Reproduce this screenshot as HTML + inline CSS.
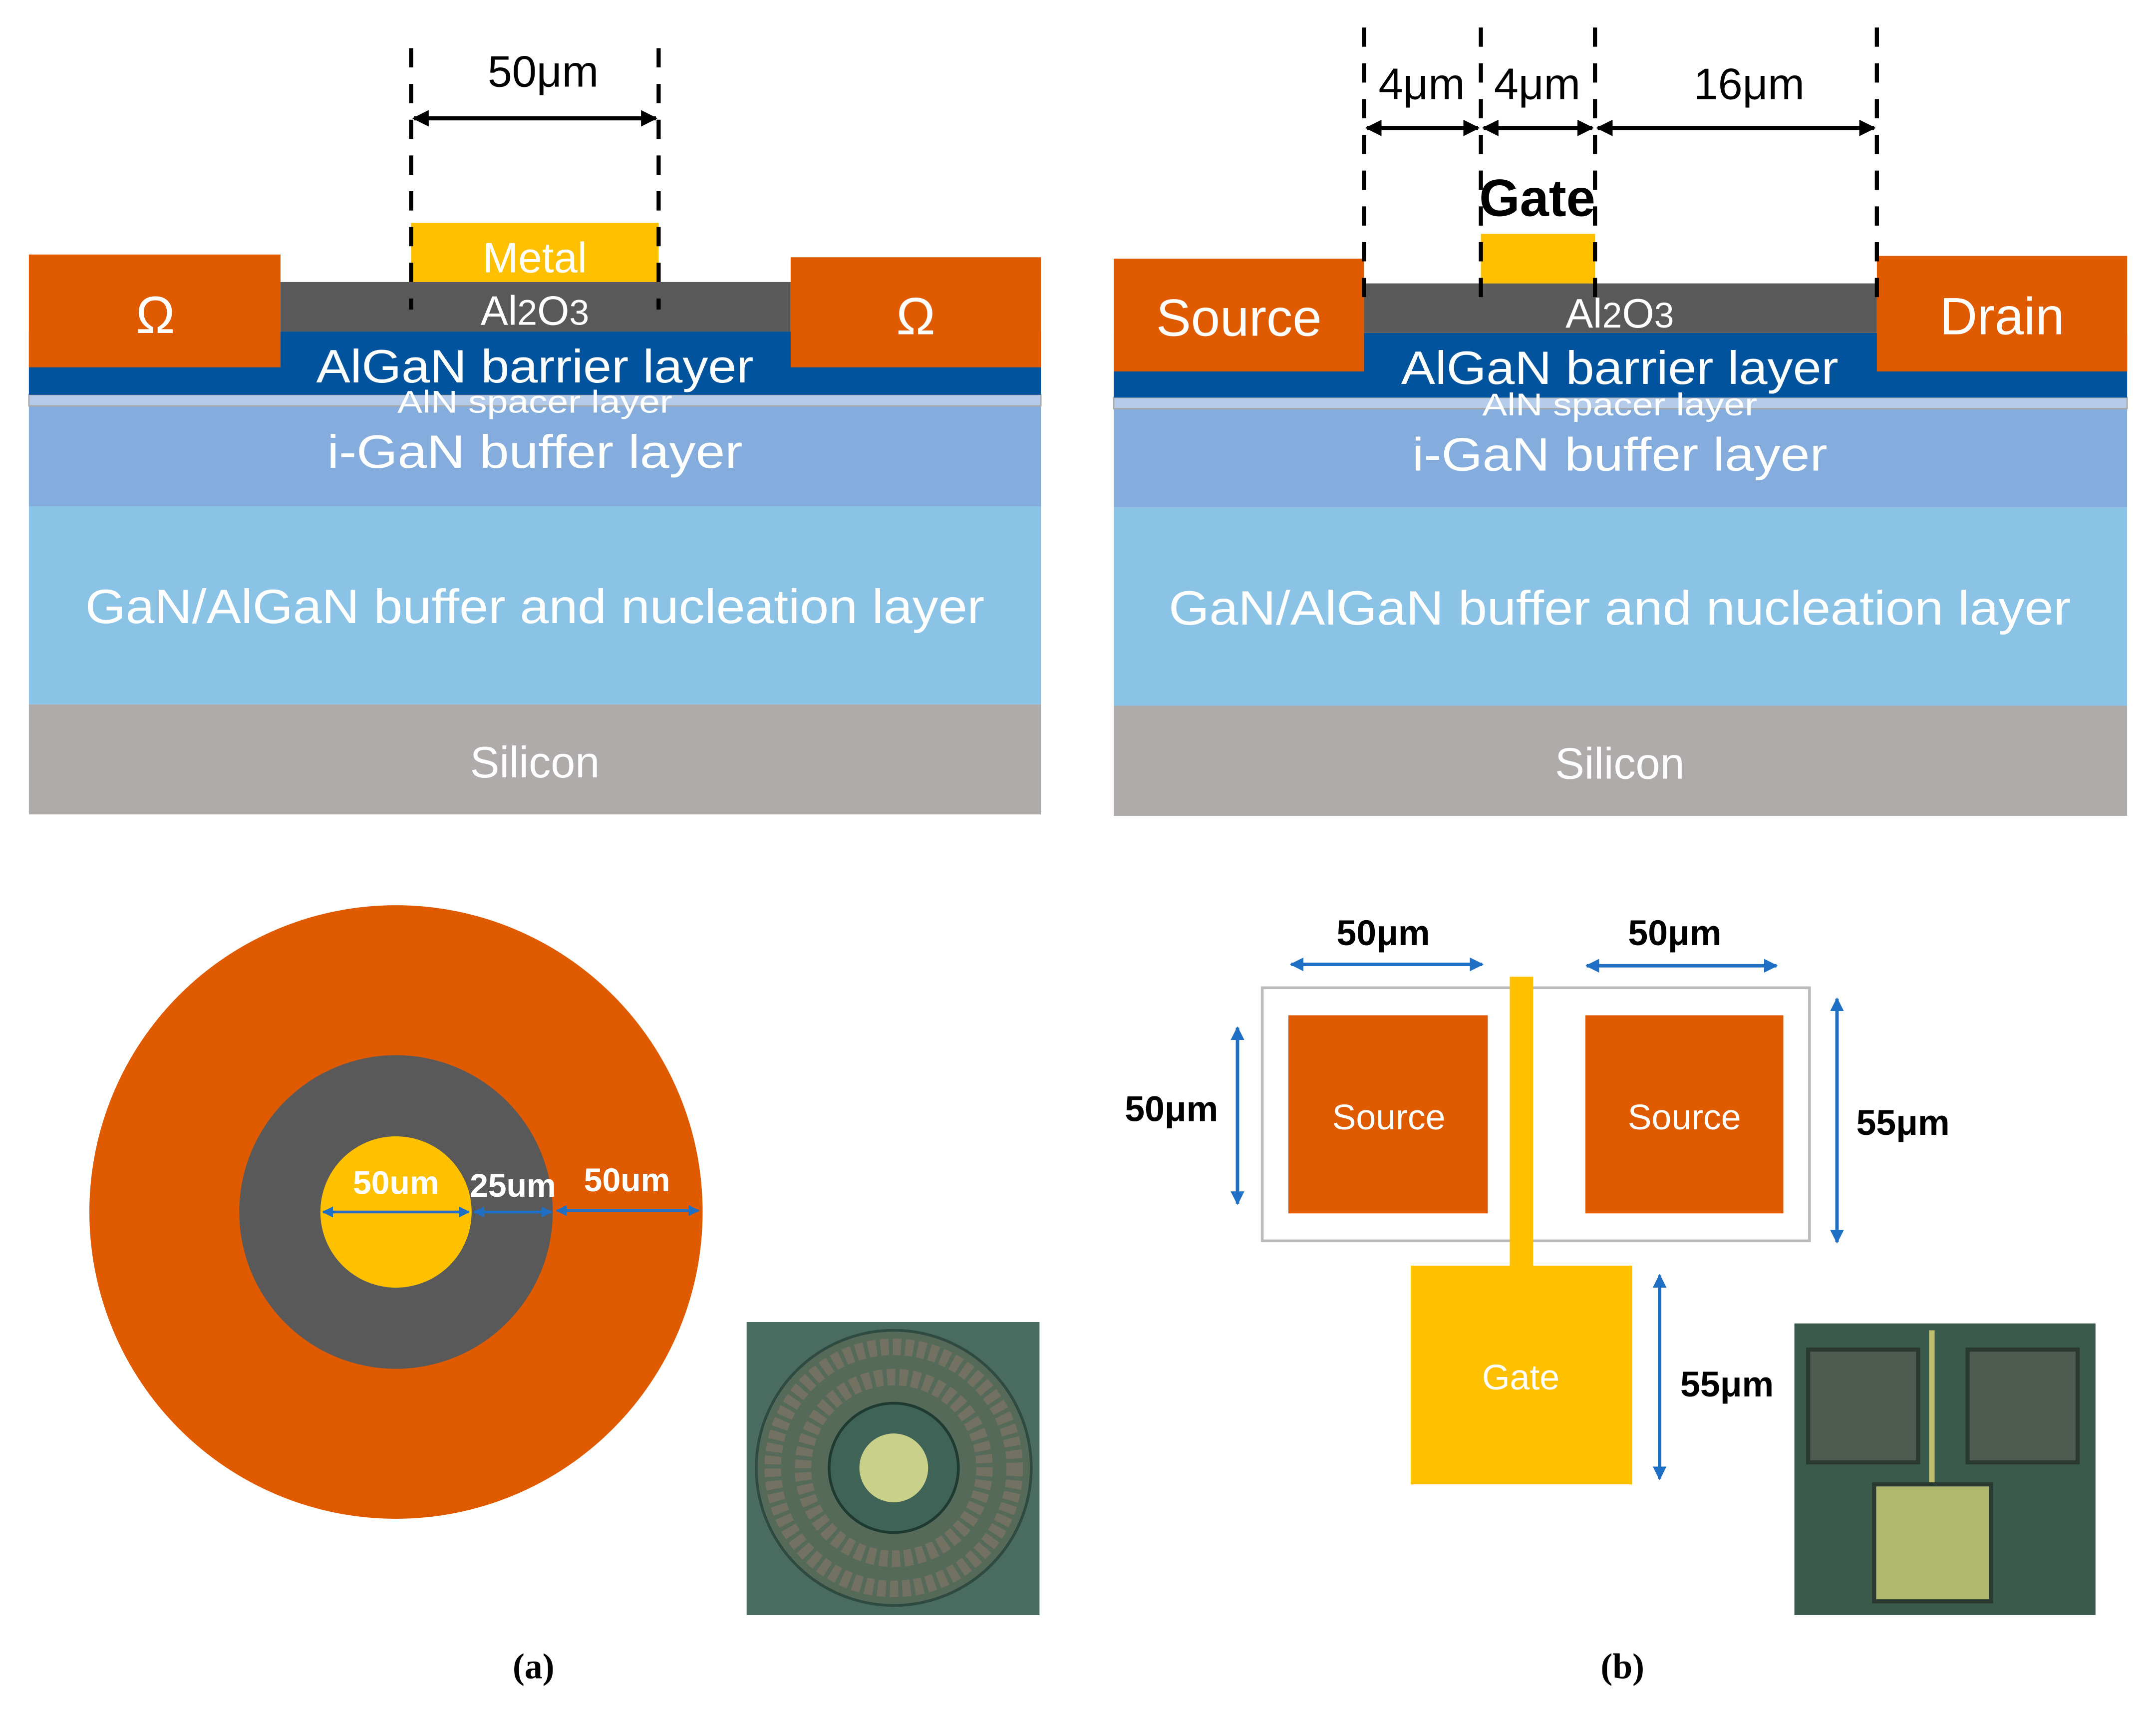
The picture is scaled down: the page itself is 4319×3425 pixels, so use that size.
<!DOCTYPE html>
<html><head><meta charset="utf-8"><style>html,body{margin:0;padding:0;background:#fff}svg{display:block}</style></head><body>
<svg width="4319" height="3425" viewBox="0 0 1568 1243" preserveAspectRatio="none" xmlns="http://www.w3.org/2000/svg" font-family="Liberation Sans, DejaVu Sans, sans-serif">
<defs>
<marker id="ak" viewBox="0 0 10 10" refX="9" refY="5" markerWidth="4" markerHeight="4" orient="auto-start-reverse"><path d="M0,0L10,5L0,10z" fill="#000"/></marker>
<marker id="ab" viewBox="0 0 10 10" refX="9" refY="5" markerWidth="4" markerHeight="4" orient="auto-start-reverse"><path d="M0,0L10,5L0,10z" fill="#1f6fc5"/></marker>
</defs>
<rect width="1568" height="1243" fill="#fff"/>
<g>
<rect x="21" y="512" width="736" height="80" fill="#AFABAB"/>
<rect x="21" y="368" width="736" height="144" fill="#8BC3E6"/>
<rect x="21" y="295" width="736" height="73" fill="#84ACDC"/>
<rect x="21" y="287" width="736" height="8" fill="#B4CCEA" stroke="#aaa" stroke-width="1"/>
<rect x="21" y="241" width="736" height="46" fill="#00539C"/>
<rect x="204" y="205" width="371" height="36" fill="#595959"/>
<rect x="299" y="162" width="180" height="43" fill="#FFC000"/>
<rect x="21" y="185" width="183" height="82" fill="#E05A00"/>
<rect x="575" y="187" width="182" height="80" fill="#E05A00"/>
<g fill="#fff" text-anchor="middle">
<text x="113" y="242" font-size="38">Ω</text><text x="666" y="243" font-size="38">Ω</text>
<text x="389" y="198" font-size="31">Metal</text>
<text x="389" y="236" font-size="30">Al<tspan font-size="26">2</tspan>O<tspan font-size="26">3</tspan></text>
<text x="389" y="278" font-size="34" textLength="318" lengthAdjust="spacingAndGlyphs">AlGaN barrier layer</text>
<text x="389" y="300" font-size="23" textLength="200" lengthAdjust="spacingAndGlyphs">AlN spacer layer</text>
<text x="389" y="340" font-size="34" textLength="302" lengthAdjust="spacingAndGlyphs">i-GaN buffer layer</text>
<text x="389" y="453" font-size="35" textLength="654" lengthAdjust="spacingAndGlyphs">GaN/AlGaN buffer and nucleation layer</text>
<text x="389" y="565" font-size="32">Silicon</text>
</g>
<g stroke="#000" stroke-width="3" stroke-dasharray="14,12"><line x1="299" y1="35" x2="299" y2="225"/><line x1="479" y1="35" x2="479" y2="225"/></g>
<line x1="301" y1="86" x2="477" y2="86" stroke="#000" stroke-width="3" marker-start="url(#ak)" marker-end="url(#ak)"/>
<text x="395" y="63" font-size="32" text-anchor="middle">50μm</text>
</g>
<g>
<rect x="810" y="513" width="737" height="80" fill="#AFABAB"/>
<rect x="810" y="369" width="737" height="144" fill="#8BC3E6"/>
<rect x="810" y="297" width="737" height="72" fill="#84ACDC"/>
<rect x="810" y="289" width="737" height="8" fill="#B4CCEA" stroke="#aaa" stroke-width="1"/>
<rect x="810" y="242" width="737" height="47" fill="#00539C"/>
<rect x="992" y="206" width="373" height="36" fill="#595959"/>
<rect x="1077" y="170" width="83" height="36" fill="#FFC000"/>
<rect x="810" y="188" width="182" height="82" fill="#E05A00"/>
<rect x="1365" y="186" width="182" height="84" fill="#E05A00"/>
<g fill="#fff" text-anchor="middle">
<text x="901" y="244" font-size="38">Source</text><text x="1456" y="243" font-size="38">Drain</text>
<text x="1178" y="238" font-size="30">Al<tspan font-size="26">2</tspan>O<tspan font-size="26">3</tspan></text>
<text x="1178" y="279" font-size="34" textLength="318" lengthAdjust="spacingAndGlyphs">AlGaN barrier layer</text>
<text x="1178" y="302" font-size="23" textLength="200" lengthAdjust="spacingAndGlyphs">AlN spacer layer</text>
<text x="1178" y="342" font-size="34" textLength="302" lengthAdjust="spacingAndGlyphs">i-GaN buffer layer</text>
<text x="1178" y="454" font-size="35" textLength="656" lengthAdjust="spacingAndGlyphs">GaN/AlGaN buffer and nucleation layer</text>
<text x="1178" y="566" font-size="32">Silicon</text>
</g>
<g stroke="#000" stroke-width="3" stroke-dasharray="14,12"><line x1="992" y1="20" x2="992" y2="228"/><line x1="1077" y1="20" x2="1077" y2="228"/><line x1="1160" y1="20" x2="1160" y2="228"/><line x1="1365" y1="20" x2="1365" y2="228"/></g>
<g stroke="#000" stroke-width="3"><line x1="994" y1="93" x2="1075" y2="93" marker-start="url(#ak)" marker-end="url(#ak)"/><line x1="1079" y1="93" x2="1158" y2="93" marker-start="url(#ak)" marker-end="url(#ak)"/><line x1="1162" y1="93" x2="1363" y2="93" marker-start="url(#ak)" marker-end="url(#ak)"/></g>
<g font-size="32" text-anchor="middle"><text x="1034" y="72">4μm</text><text x="1118" y="72">4μm</text><text x="1272" y="72">16μm</text></g>
<text x="1118" y="157" font-size="38" font-weight="bold" text-anchor="middle">Gate</text>
</g>
<circle cx="288" cy="881" r="223" fill="#E05A00"/>
<circle cx="288" cy="881" r="114" fill="#595959"/>
<circle cx="288" cy="881" r="55" fill="#FFC000"/>
<g stroke="#1f6fc5" stroke-width="2"><line x1="235" y1="881" x2="341" y2="881" marker-start="url(#ab)" marker-end="url(#ab)"/><line x1="345" y1="881" x2="401" y2="881" marker-start="url(#ab)" marker-end="url(#ab)"/><line x1="405" y1="880" x2="508" y2="880" marker-start="url(#ab)" marker-end="url(#ab)"/></g>
<g fill="#fff" font-weight="bold" font-size="24" text-anchor="middle"><text x="288" y="868">50um</text><text x="373" y="870">25um</text><text x="456" y="866">50um</text></g>
<rect x="543" y="961" width="213" height="213" fill="#4a6b5f"/>
<circle cx="650" cy="1067" r="100" fill="#566a5a" stroke="#2f4a40" stroke-width="2"/>
<circle cx="650" cy="1067" r="88" fill="none" stroke="#7a7464" stroke-width="12" stroke-dasharray="6,3" opacity="0.8"/>
<circle cx="650" cy="1067" r="66" fill="none" stroke="#7a7464" stroke-width="12" stroke-dasharray="6,3" opacity="0.8"/>
<circle cx="650" cy="1067" r="47" fill="#3f6356" stroke="#1f3a30" stroke-width="2"/>
<circle cx="650" cy="1067" r="25" fill="#c9d08a"/>
<rect x="918" y="718" width="398" height="184" fill="none" stroke="#bbb" stroke-width="2"/>
<rect x="937" y="738" width="145" height="144" fill="#E05A00"/>
<rect x="1153" y="738" width="144" height="144" fill="#E05A00"/>
<rect x="1098" y="710" width="17" height="212" fill="#FFC000"/>
<rect x="1026" y="920" width="161" height="159" fill="#FFC000"/>
<g fill="#fff" font-size="26" text-anchor="middle"><text x="1010" y="821">Source</text><text x="1225" y="821">Source</text><text x="1106" y="1010">Gate</text></g>
<g stroke="#1f6fc5" stroke-width="2.5"><line x1="939" y1="701" x2="1078" y2="701" marker-start="url(#ab)" marker-end="url(#ab)"/><line x1="1154" y1="702" x2="1292" y2="702" marker-start="url(#ab)" marker-end="url(#ab)"/><line x1="900" y1="747" x2="900" y2="875" marker-start="url(#ab)" marker-end="url(#ab)"/><line x1="1336" y1="726" x2="1336" y2="903" marker-start="url(#ab)" marker-end="url(#ab)"/><line x1="1207" y1="927" x2="1207" y2="1075" marker-start="url(#ab)" marker-end="url(#ab)"/></g>
<g font-size="26" font-weight="bold" text-anchor="middle"><text x="1006" y="687">50μm</text><text x="1218" y="687">50μm</text><text x="852" y="815">50μm</text><text x="1384" y="825">55μm</text><text x="1256" y="1015">55μm</text></g>
<rect x="1305" y="962" width="219" height="212" fill="#3a5a4c"/>
<rect x="1315" y="981" width="80" height="82" fill="#4f5a50" stroke="#2a3a32" stroke-width="3"/>
<rect x="1431" y="981" width="80" height="82" fill="#4f5a50" stroke="#2a3a32" stroke-width="3"/>
<rect x="1403" y="967" width="4" height="112" fill="#c0c070"/>
<rect x="1363" y="1079" width="85" height="85" fill="#b0b870" stroke="#2a3a32" stroke-width="3"/>
<g font-family="Liberation Serif, serif" font-size="26" font-weight="bold" text-anchor="middle"><text x="388" y="1220">(a)</text><text x="1180" y="1220">(b)</text></g>
</svg>
</body></html>
